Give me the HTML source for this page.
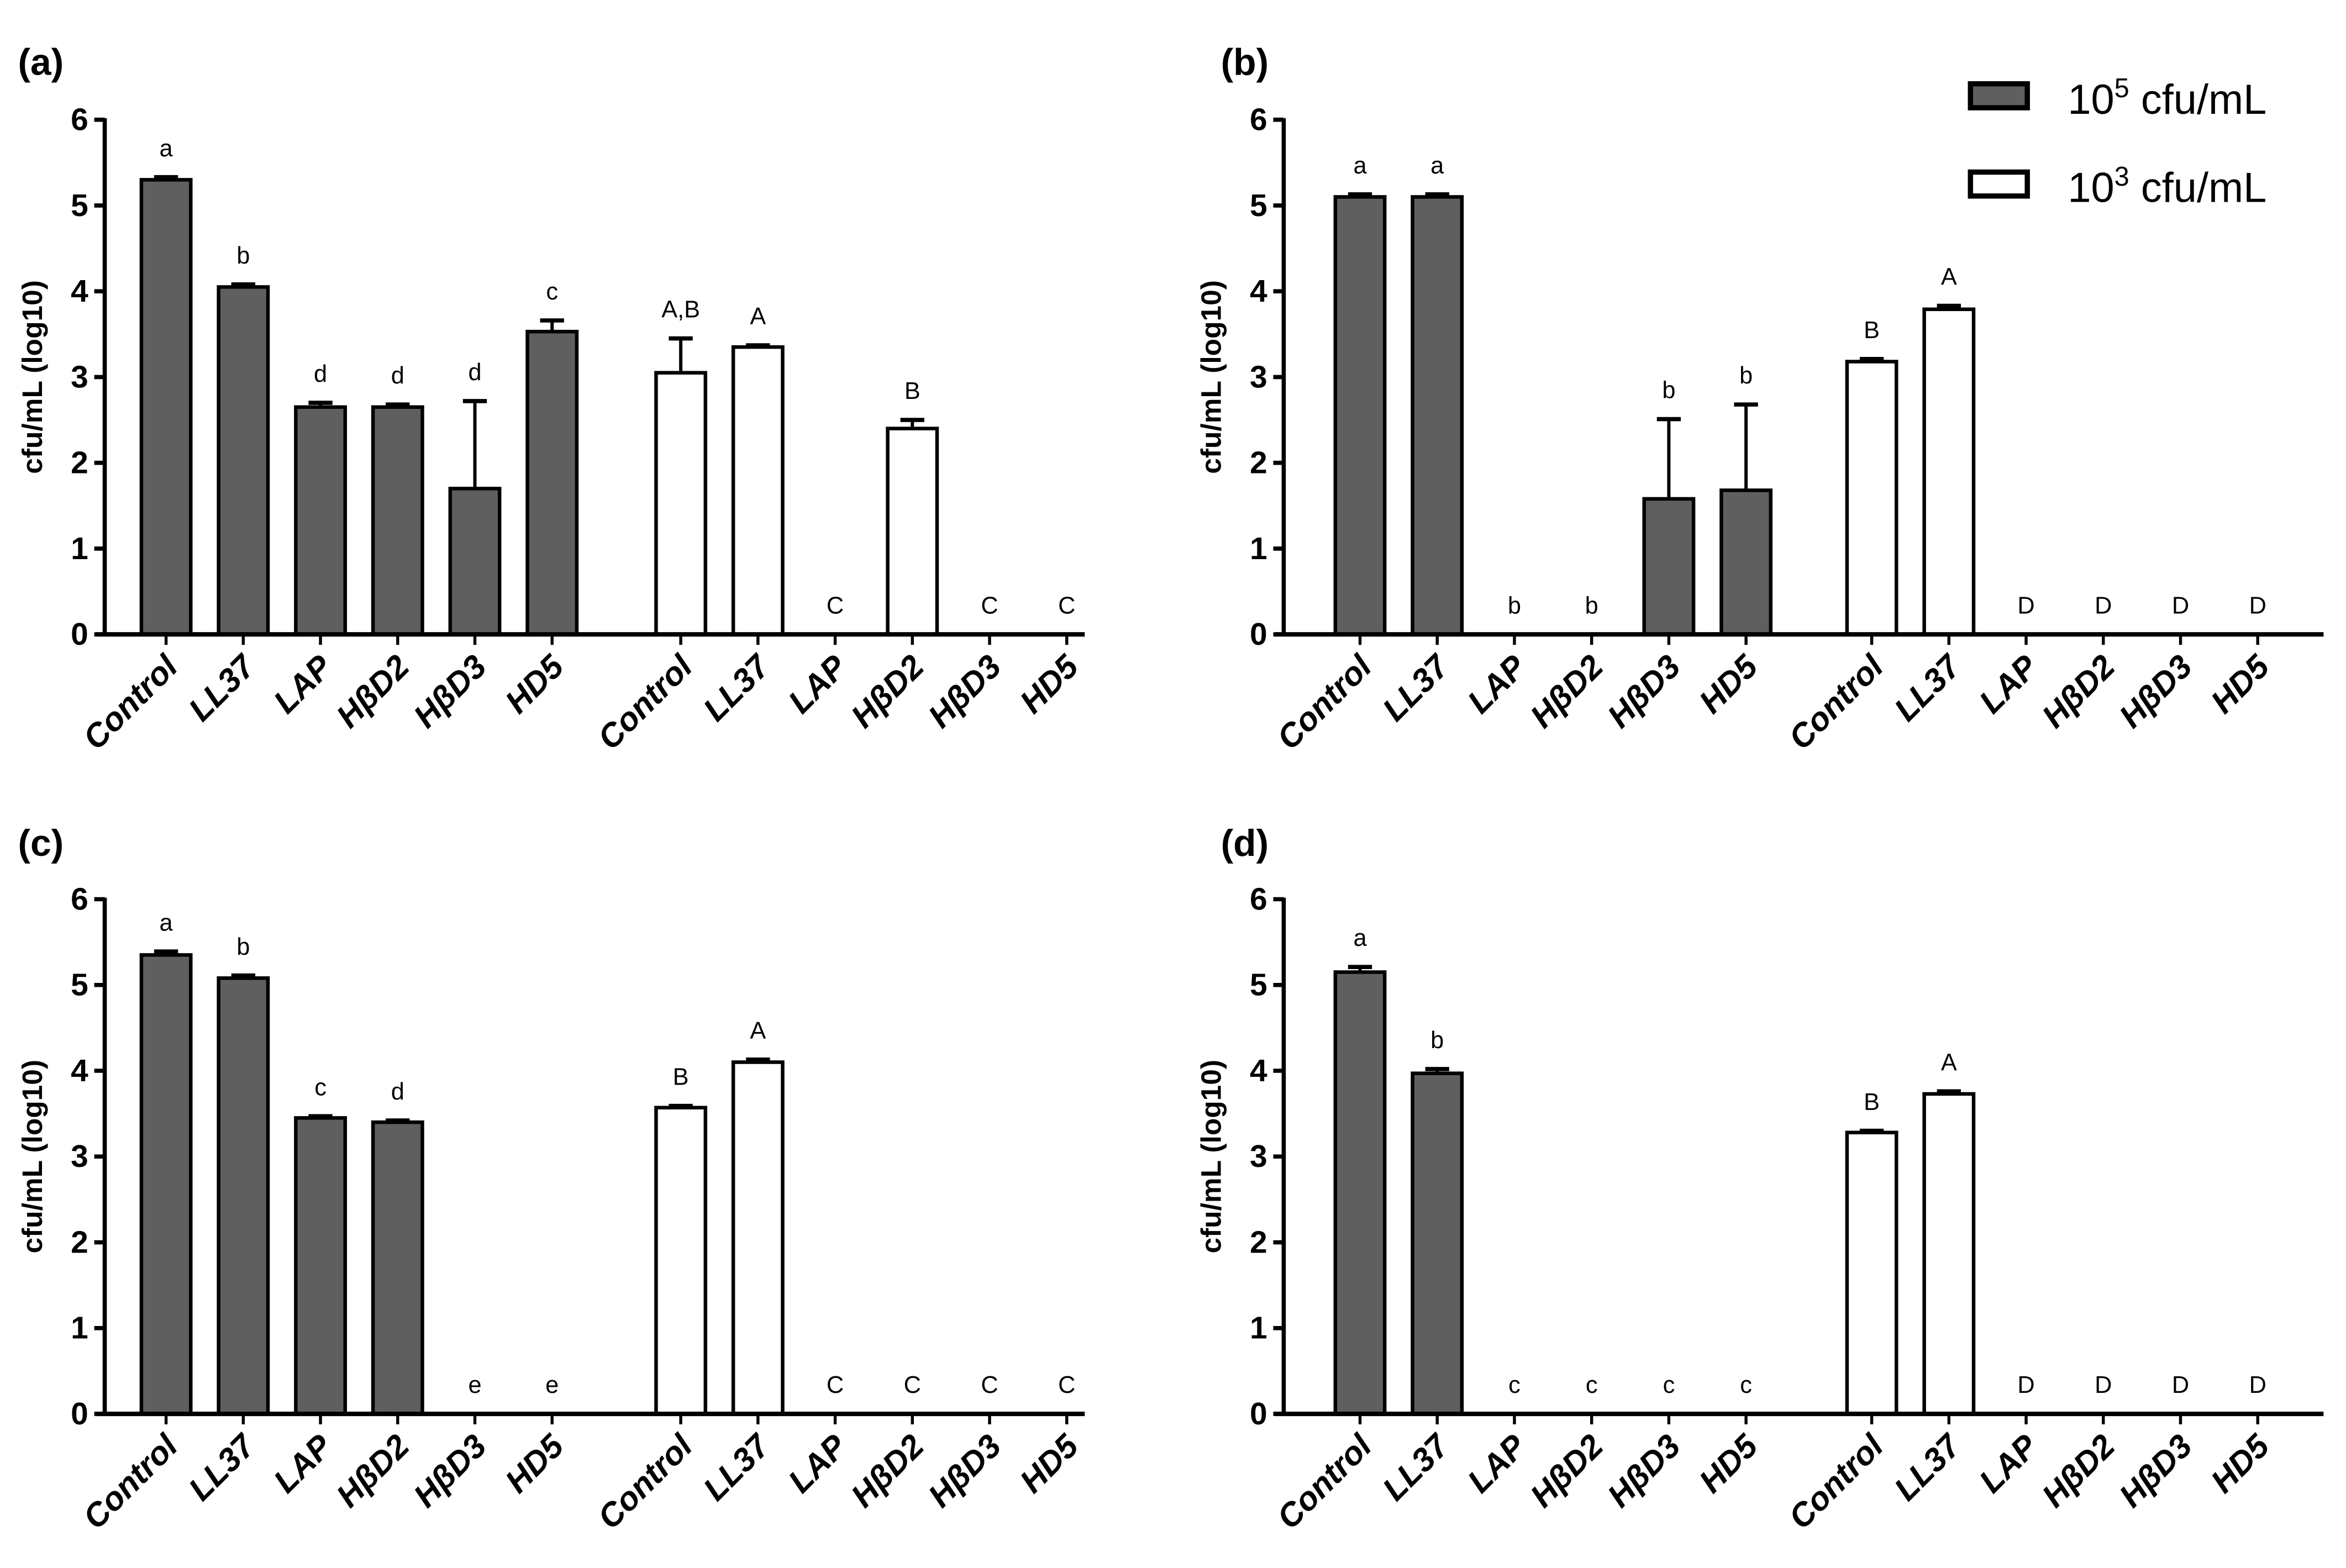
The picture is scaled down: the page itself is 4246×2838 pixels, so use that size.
<!DOCTYPE html>
<html><head><meta charset="utf-8"><style>
html,body{margin:0;padding:0;background:#fff;}
svg{display:block;}
text{font-family:"Liberation Sans",Arial,sans-serif;}
</style></head><body>
<svg id="fig" width="4246" height="2838" viewBox="0 0 1568 1048" xmlns="http://www.w3.org/2000/svg"></svg>
<script>
const categories = ["Control","LL37","LAP","HβD2","HβD3","HD5"];
const tickLabels = [0,1,2,3,4,5,6];
const panelNames = ["(a)","(b)","(c)","(d)"];
// panel a
const aHigh = [5.3,4.05,2.65,2.65,1.7,3.53];
const aHighErr = [0.03,0.03,0.05,0.03,1.02,0.13];
const aLow = [3.05,3.35,0,2.4,0,0];
const aLowErr = [0.4,0.02,0,0.1,0,0];
const aHighLetters = ["a","b","d","d","d","c"];
const aLowLetters = ["A,B","A","C","B","C","C"];
// panel b
const bHigh = [5.1,5.1,0,0,1.58,1.68];
const bHighErr = [0.03,0.03,0,0,0.93,1.0];
const bLow = [3.18,3.79,0,0,0,0];
const bLowErr = [0.03,0.04,0,0,0,0];
const bHighLetters = ["a","a","b","b","b","b"];
const bLowLetters = ["B","A","D","D","D","D"];
// panel c
const cHigh = [5.35,5.08,3.45,3.4,0,0];
const cHighErr = [0.04,0.03,0.02,0.02,0,0];
const cLow = [3.57,4.1,0,0,0,0];
const cLowErr = [0.02,0.03,0,0,0,0];
const cHighLetters = ["a","b","c","d","e","e"];
const cLowLetters = ["B","A","C","C","C","C"];
// panel d
const dHigh = [5.15,3.97,0,0,0,0];
const dHighErr = [0.06,0.05,0,0,0,0];
const dLow = [3.28,3.73,0,0,0,0];
const dLowErr = [0.02,0.03,0,0,0,0];
const dHighLetters = ["a","b","c","c","c","c"];
const dLowLetters = ["B","A","D","D","D","D"];

const NS="http://www.w3.org/2000/svg";
const svg=document.getElementById('fig');
function mk(tag,attrs,parent){const e=document.createElementNS(NS,tag);for(const k in attrs)e.setAttribute(k,attrs[k]);(parent||svg).appendChild(e);return e;}

const panels=[
 {ox:70, y0:424, y6:80, lx:12, ly:50, high:aHigh,he:aHighErr,low:aLow,le:aLowErr,hl:aHighLetters,ll:aLowLetters, g1:111, g2:455, xend:725},
 {ox:858,y0:424, y6:80, lx:816,ly:50, high:bHigh,he:bHighErr,low:bLow,le:bLowErr,hl:bHighLetters,ll:bLowLetters, g1:909, g2:1251, xend:1553},
 {ox:70, y0:945, y6:601,lx:12, ly:572,high:cHigh,he:cHighErr,low:cLow,le:cLowErr,hl:cHighLetters,ll:cLowLetters, g1:111, g2:455, xend:725},
 {ox:858,y0:945, y6:601,lx:816,ly:572,high:dHigh,he:dHighErr,low:dLow,le:dLowErr,hl:dHighLetters,ll:dLowLetters, g1:909, g2:1251, xend:1553}
];
const step=51.6, bw=33;

panels.forEach((p,pi)=>{
  const g=mk('g',{});
  
  
  const ys=v=>p.y0-(p.y0-p.y6)*v/6;
  const t=mk('text',{x:p.lx,y:p.ly,'font-size':25,'font-weight':'bold'},g);t.textContent=panelNames[pi];
  
  
  const yt=mk('text',{x:0,y:0,'font-size':19,'font-weight':'bold','text-anchor':'middle',transform:`translate(${p.ox-42},${(p.y0+p.y6)/2}) rotate(-90)`},g);
  yt.textContent='cfu/mL (log10)';
  
  
  const series=[[p.high,p.he,p.hl,p.g1,'#5f5f5f','high'],[p.low,p.le,p.ll,p.g2,'#ffffff','low']];
  series.forEach(s=>{
    const [vals,errs,lets,gx,fill,nm]=s;
    vals.forEach((v,i)=>{
      const cx=gx+i*step;
      if(v>0){
        const et=ys(v+errs[i]);
        const el=mk('line',{x1:cx,x2:cx,y1:ys(v),y2:et,stroke:'#000','stroke-width':2.2},g);
        
        
        const cap=mk('line',{x1:cx-8,x2:cx+8,y1:et,y2:et,stroke:'#000','stroke-width':2.8},g);
        
        
        const r=mk('rect',{x:cx-bw/2,y:ys(v),width:bw,height:ys(0)-ys(v),fill:fill,stroke:'#000','stroke-width':2.4},g);
        
        
      }
      const lt=mk('text',{x:cx,y:ys(v+errs[i])-14,'font-size':16,'text-anchor':'middle'},g);
      lt.textContent=lets[i];
      
      
      mk('line',{x1:cx,x2:cx,y1:p.y0,y2:p.y0+7,stroke:'#000','stroke-width':2},g);
      const xl=mk('text',{x:0,y:0,'font-size':22,'font-weight':'bold','font-style':'italic','text-anchor':'end',transform:`translate(${cx+9},${p.y0+23}) rotate(-45)`},g);
      xl.textContent=categories[i];
      
      
    });
  });
  const ya=mk('line',{x1:p.ox,x2:p.ox,y1:p.y6-1,y2:p.y0+1,stroke:'#000','stroke-width':2.8},g);
  
  
  const xa=mk('line',{x1:p.ox-6,x2:p.xend,y1:p.y0,y2:p.y0,stroke:'#000','stroke-width':3},g);
  
  
  tickLabels.forEach(tv=>{
    mk('line',{x1:p.ox-7,x2:p.ox,y1:ys(tv),y2:ys(tv),stroke:'#000','stroke-width':2.8},g);
    const tl=mk('text',{x:p.ox-11,y:ys(tv)+7,'font-size':21,'font-weight':'bold','text-anchor':'end'},g);
    tl.textContent=tv;
    
    
  });
});
const lg=mk('g',{});


[[64,'#5f5f5f','5'],[123,'#ffffff','3']].forEach(e=>{
  const r=mk('rect',{x:1317,y:e[0]-8,width:38,height:16,fill:e[1],stroke:'#000','stroke-width':3.5},lg);
  
  
  const t=mk('text',{x:1382,y:e[0]+12,'font-size':28},lg);
  t.innerHTML='10<tspan dy="-11" font-size="18">'+e[2]+'</tspan><tspan dy="11"> cfu/mL</tspan>';
  
  
});
</script>
</body></html>
